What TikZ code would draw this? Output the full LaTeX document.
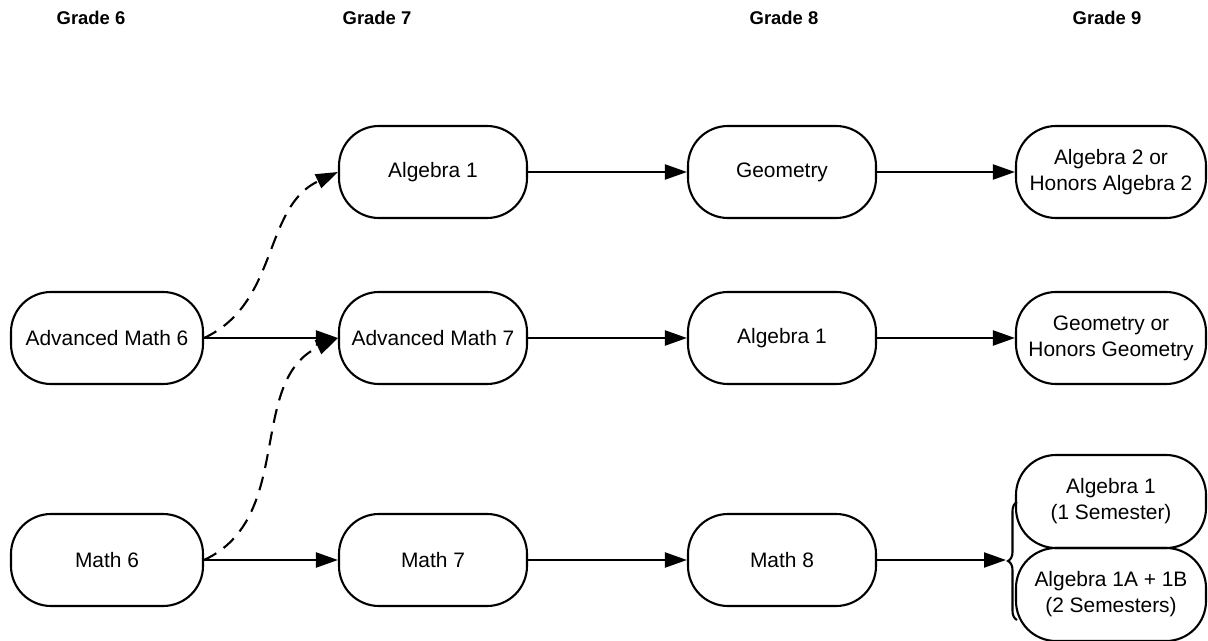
\documentclass[tikz,border=0pt]{standalone}
\usepackage{fontspec}
\setmainfont{Liberation Sans}
\usetikzlibrary{positioning,%
  arrows.meta,%
  decorations.pathreplacing%
}

\begin{document}
\begin{tikzpicture}[x=1bp,y=-1bp,
    course/.style={draw,line width=2.1bp,rounded corners=40bp,minimum width=188bp,
      minimum height=92bp,align=center,inner sep=0pt,
      font=\fontsize{21}{26}\selectfont},
    grade/.style={font=\fontsize{18.5}{22}\selectfont\bfseries},
    link/.style={line width=2.1bp,-{Triangle[length=22bp,width=15bp]}},
    maybe/.style={link,dash pattern=on 14bp off 9bp}]
            \useasboundingbox (0,0) rectangle (1208,641);

            \node [grade] (g6) at (91,18) {Grade 6};
            \node [grade] (g7) at (377,18) {Grade 7};
            \node [grade] (g8) at (784,18) {Grade 8};
            \node [grade] (g9) at (1107,18) {Grade 9};

            \node [course,minimum width=192bp] (adv6) at (107,338) {Advanced Math 6};
            \node [course,minimum width=192bp] (math6) at (107,560) {Math 6};

            \node [course] (alg7) at (433,172) {Algebra 1};
            \node [course] (adv7) at (433,338) {Advanced Math 7};
            \node [course] (math7) at (433,560) {Math 7};

            \node [course] (geo8) at (782,172) {Geometry};
            \node [course] (alg8) at (782,338) {Algebra 1};
            \node [course] (math8) at (782,560) {Math 8};

            \node [course,minimum width=190bp] (alg9) at (1111,172) {Algebra 2 or\\Honors Algebra 2};
            \node [course,minimum width=190bp] (geo9) at (1111,338) {Geometry or\\Honors Geometry};
            \node [course,minimum width=190bp,minimum height=93bp] (semA) at (1111,501.5) {Algebra 1\\(1 Semester)};
            \node [course,minimum width=190bp,minimum height=93bp] (semB) at (1111,594.5) {Algebra 1A + 1B\\(2 Semesters)};

            % brace in front of the two grade 9 options
            \draw [line width=2.1bp,decorate,decoration={brace,amplitude=9bp}]
                (1017,620) -- (1017,502);
            \coordinate (tip) at (1006,560);

            \draw [link] (adv6) -- (adv7);
            \draw [link] (math6) -- (math7);
            \draw [link] (alg7) -- (geo8);
            \draw [link] (adv7) -- (alg8);
            \draw [link] (math7) -- (math8);
            \draw [link] (geo8) -- (alg9);
            \draw [link] (alg8) -- (geo9);
            \draw [link] (math8.east) -- (tip);

            \draw [maybe] (adv6.east) to[out=25,in=205] (alg7.west);
            \draw [maybe] (math6.east) to[out=25,in=205] (adv7.west);
        \end{tikzpicture}
\end{document}
